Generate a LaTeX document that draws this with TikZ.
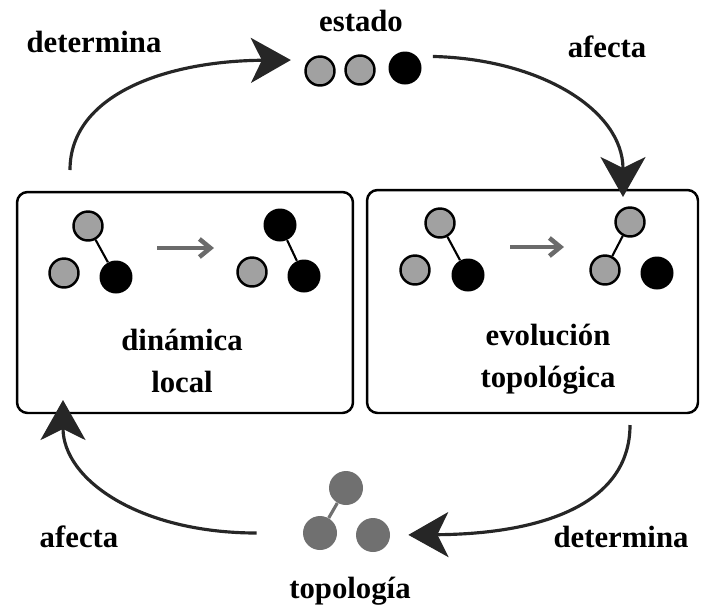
\documentclass[tikz,border=0pt]{standalone}
\usepackage{fontspec}
\setmainfont{Liberation Serif}[BoldFont={Liberation Serif Bold}]
\newfontfamily\lblfont{Liberation Serif Bold}
\usetikzlibrary{arrows.meta}

\begin{document}
\begin{tikzpicture}[
  x=0.02cm, y=-0.02cm,
  >={Stealth[length=8mm, width=9mm, inset=2.2mm]},
  bigarrow/.style = {->, line width=1.8pt, draw=black!85},
  panel/.style    = {draw, line width=1.4pt, rounded corners=6pt, inner sep=0pt},
  lbl/.style      = {font=\fontsize{17.5}{24}\lblfont, inner sep=0pt, align=center},
  light/.style    = {circle, draw, line width=1.4pt, fill=black!37, minimum size=5.8mm, inner sep=0pt},
  dark/.style     = {circle, fill=black, minimum size=6.6mm, inner sep=0pt},
  topo/.style     = {circle, fill=black!56, minimum size=6.8mm, inner sep=0pt},
  link/.style     = {line width=1.2pt},
  change/.style   = {-{Straight Barb[length=2.2mm, width=3.6mm]}, line width=2.6pt, draw=black!58},
]
  \useasboundingbox (0,0) rectangle (702,606);

  % ---- Top: state of the nodes ----
  \node[light] (s1) at (320,71) {};
  \node[light] (s2) at (360,70) {};
  \node[dark]  (s3) at (405,68) {};
  \node[lbl, anchor=base] (estado) at (361,31) {estado};

  % ---- Boxes ----
  \node[panel, minimum width=6.72cm, minimum height=4.42cm] (dinbox) at (185,302.5) {};
  \node[panel, minimum width=6.62cm, minimum height=4.46cm] (evobox) at (532.5,301.5) {};

  % local dynamics: the state changes, the links stay
  \node[light] (a1) at (88,226)  {};
  \node[light] (a2) at (64,273)  {};
  \node[dark]  (a3) at (116,277) {};
  \draw[link] (a1) -- (a3);
  \coordinate (da0) at (157,248);
  \coordinate (da1) at (214,248);
  \draw[change] (da0) -- (da1);
  \node[dark]  (b1) at (280,225) {};
  \node[light] (b2) at (252,272) {};
  \node[dark]  (b3) at (304,276) {};
  \draw[link] (b1) -- (b3);
  \node[lbl] (dinamica) at (182,361) {dinámica\\local};

  % topological evolution: the links change, the state stays
  \node[light] (c1) at (440,223) {};
  \node[light] (c2) at (415,270) {};
  \node[dark]  (c3) at (468,275) {};
  \draw[link] (c1) -- (c3);
  \coordinate (dc0) at (510,247);
  \coordinate (dc1) at (564,247);
  \draw[change] (dc0) -- (dc1);
  \node[light] (e1) at (630,222) {};
  \node[light] (e2) at (605,270) {};
  \node[dark]  (e3) at (657,273) {};
  \draw[link] (e1) -- (e2);
  \node[lbl] (evolucion) at (548,359) {evolución\\topológica};

  % ---- Bottom: topology ----
  \node[topo] (t1) at (346,488) {};
  \node[topo] (t2) at (320,533) {};
  \node[topo] (t3) at (373,535) {};
  \draw[line width=1.8pt, black!56] (t1) -- (t2);
  \node[lbl, anchor=base] (topologia) at (350,598) {topología};

  % ---- The cycle ----
  \coordinate (up0)  at (70,170);
  \coordinate (rtop) at (623,197);
  \coordinate (dn0)  at (630,425);
  \coordinate (lbot) at (63,400);

  \draw[bigarrow, shorten >=0.36cm] (up0) .. controls (70,95) and (165,61) .. (s1.north west);
  \draw[bigarrow, shorten <=0.32cm] (s3.north east) .. controls (540,59) and (623,110) .. (rtop);
  \draw[bigarrow, shorten >=0.36cm] (dn0) .. controls (630,505) and (540,534) .. (t3.east);
  \draw[bigarrow, shorten <=0.92cm] (t2.west) .. controls (140,533) and (63,480) .. (lbot);

  \node[lbl, anchor=base] (det1) at (94,52)   {determina};
  \node[lbl, anchor=base] (afe1) at (607,57)  {afecta};
  \node[lbl, anchor=base] (afe2) at (79,547)  {afecta};
  \node[lbl, anchor=base] (det2) at (621,547) {determina};
\end{tikzpicture}
\end{document}
